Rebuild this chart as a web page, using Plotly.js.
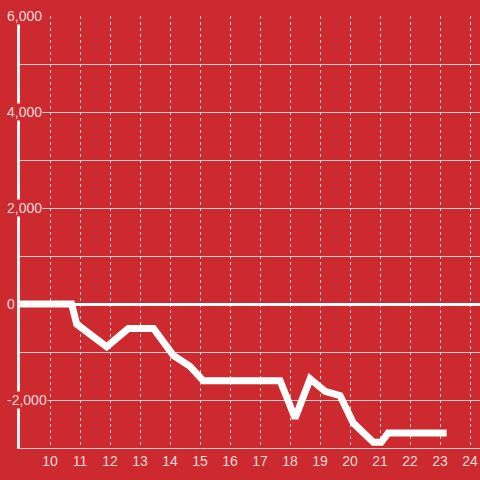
<!DOCTYPE html>
<html>
<head>
<meta charset="utf-8">
<script src="https://cdn.plot.ly/plotly-3.0.1.min.js"></script>
<style>html,body{margin:0;padding:0;background:#CC2A2F;}#chart{width:480px;height:480px;}</style>
</head>
<body>
<div id="chart"></div>
<script>
// Data
const hours = [9, 10.72, 10.89, 11.56, 11.89, 12.61, 13.45, 14.11, 14.67, 15.11, 17.67, 18.17, 18.67, 19.17, 19.67, 20.11, 20.78, 21.04, 21.27, 23.22];
const values = [0, 0, -420, -720, -890, -510, -510, -1070, -1300, -1600, -1600, -2380, -1560, -1820, -1910, -2480, -2880, -2880, -2690, -2690];
const xTicks = [10, 11, 12, 13, 14, 15, 16, 17, 18, 19, 20, 21, 22, 23, 24];
const yTicks = [-2000, 0, 2000, 4000, 6000];

const bg = '#CC2A2F';
const gridCol = '#D2CDCD';
const textCol = '#F3D9DA';

const yLabelAnns = yTicks.map(v => ({
  xref: 'paper', x: 0, xanchor: 'left', xshift: -14,
  yref: 'y', y: v, yanchor: 'middle',
  text: v.toLocaleString('en-US'), showarrow: false,
  bgcolor: bg, borderpad: 0,
  font: {family: 'Liberation Sans, Arial, sans-serif', size: 14, color: textCol}
}));

Plotly.newPlot('chart', [{
  x: hours,
  y: values,
  type: 'scatter',
  mode: 'lines',
  line: {color: '#FFFFFF', width: 7},
  hoverinfo: 'skip'
}], {
  width: 480, height: 480,
  paper_bgcolor: bg, plot_bgcolor: bg,
  margin: {l: 20, r: 0, t: 16, b: 32},
  showlegend: false,
  font: {family: 'Liberation Sans, Arial, sans-serif', size: 14, color: textCol},
  xaxis: {
    range: [9, 24.333],
    tickmode: 'array', tickvals: xTicks, ticktext: xTicks.map(String),
    showgrid: true, gridcolor: gridCol, gridwidth: 1, griddash: 'dot',
    zeroline: false,
    showline: true, linecolor: gridCol, linewidth: 1,
    ticks: '', ticklabelstandoff: 0,
    tickfont: {size: 14, color: textCol}
  },
  yaxis: {
    range: [-3000, 6000],
    tickmode: 'array', tickvals: yTicks, showticklabels: false,
    showgrid: true, gridcolor: gridCol, gridwidth: 1,
    minor: {dtick: 1000, showgrid: true, gridcolor: gridCol, gridwidth: 1, ticks: ''},
    zeroline: true, zerolinecolor: '#FFFFFF', zerolinewidth: 3,
    showline: true, linecolor: '#F5F0F0', linewidth: 3,
    ticks: ''
  },
  annotations: yLabelAnns
}, {displayModeBar: false, staticPlot: true});
</script>
</body>
</html>
